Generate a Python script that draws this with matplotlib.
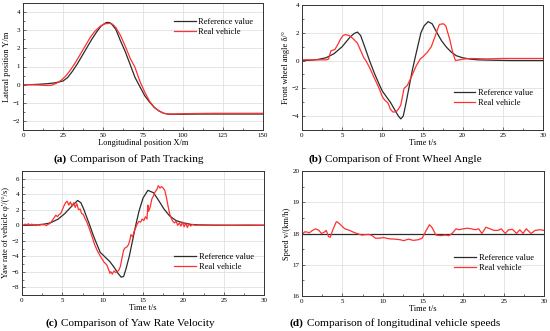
import matplotlib
matplotlib.use("Agg")
import matplotlib.pyplot as plt
from matplotlib.ticker import AutoMinorLocator, MultipleLocator

plt.rcParams['font.family'] = ['Liberation Serif', 'DejaVu Serif']

# (a) path tracking
xa_ref = [0, 5, 10, 15, 20, 25, 28, 31, 34, 37, 40, 43, 46, 49, 52, 53.5, 55, 58, 61, 64, 67, 70,
          73, 76, 79, 82, 85, 88, 91, 95, 100, 110, 120, 130, 140, 150]
ya_ref = [0, 0, 0.02, 0.05, 0.1, 0.2, 0.4, 0.75, 1.15, 1.6, 2.05, 2.5, 2.9, 3.25, 3.42, 3.43, 3.38,
          3.05, 2.4, 1.8, 1.1, 0.4, -0.1, -0.6, -0.95, -1.25, -1.45, -1.58, -1.63, -1.63, -1.63,
          -1.62, -1.62, -1.62, -1.62, -1.62]
xa_real = [0, 5, 10, 15, 18, 21, 24, 27, 30, 33, 36, 39, 42, 45, 48, 51, 54, 56, 58, 61, 64, 67,
           70, 73, 76, 79, 82, 85, 88, 91, 95, 100, 110, 120, 130, 140, 150]
ya_real = [0, 0, -0.02, -0.05, -0.03, 0.08, 0.25, 0.5, 0.85, 1.25, 1.7, 2.15, 2.6, 2.95, 3.2, 3.35,
           3.38, 3.33, 3.15, 2.7, 2.1, 1.45, 0.95, 0.2, -0.4, -0.9, -1.25, -1.45, -1.58, -1.62,
           -1.62, -1.6, -1.59, -1.58, -1.58, -1.58, -1.58]

# (b) front wheel angle
tb_ref = [0, 1, 2, 3, 4, 5, 5.5, 6, 6.5, 6.9, 7.3, 7.8, 8.4, 9.0, 9.6, 10.0, 10.5, 11.0, 11.5, 12.0,
          12.3, 12.6, 12.9, 13.3, 13.7, 14.0, 14.4, 14.8, 15.2, 15.7, 16.2, 16.8, 17.4, 18.0, 18.6,
          19.2, 20, 21, 22, 24, 26, 28, 30]
yb_ref = [0, 0.02, 0.08, 0.2, 0.5, 1.0, 1.35, 1.7, 1.95, 2.05, 1.8, 1.0, 0.0, -0.9, -1.7, -2.2,
          -2.6, -3.0, -3.5, -4.0, -4.2, -4.0, -3.2, -2.0, -0.8, 0.0, 1.0, 2.0, 2.5, 2.8, 2.65, 2.0,
          1.4, 0.95, 0.6, 0.35, 0.2, 0.1, 0.05, 0.02, 0, 0, 0]
tb_real = [0, 1, 2, 3, 3.3, 3.6, 4.1, 4.5, 4.8, 5.1, 5.4, 5.9, 6.4, 6.9, 7.2, 7.7, 8.0, 8.4, 8.8,
           9.2, 9.6, 10.0, 10.3, 10.7, 11.0, 11.3, 11.7, 12.0, 12.3, 12.7, 13.1, 13.6, 14.2, 14.7,
           15.1, 15.6, 16.1, 16.6, 17.1, 17.6, 17.9, 18.4, 18.8, 19.1, 19.6, 20, 21, 23, 25, 30]
yb_real = [0.05, 0.05, 0.05, 0.05, 0.1, 0.7, 0.8, 1.2, 1.55, 1.8, 1.87, 1.8, 1.55, 1.25, 0.85,
           0.2, -0.05, -0.5, -1.0, -1.5, -2.0, -2.6, -2.85, -3.05, -3.5, -3.7, -3.7, -3.5, -3.2,
           -2.0, -1.8, -1.2, -0.4, 0.1, 0.3, 0.6, 1.0, 1.8, 2.6, 2.65, 2.5, 1.5, 0.5, 0.0, 0.05,
           0.1, 0.15, 0.12, 0.15, 0.15]

# (c) yaw rate
tc_ref = [0, 1, 2, 2.5, 3.5, 4.5, 5.3, 6.2, 6.9, 7.3, 7.6, 8.0, 8.4, 8.8, 9.1, 9.7, 10.3, 10.9,
          11.4, 11.9, 12.3, 12.6, 12.9, 13.3, 13.7, 14.1, 14.5, 15.0, 15.6, 16.3, 17.0, 17.6, 18.3,
          19.1, 20, 21, 22, 24, 30]
yc_ref = [0, 0, 0.05, 0.1, 0.3, 0.8, 1.5, 2.5, 3.2, 2.9, 2.2, 1.1, 0, -1.2, -2.0, -3.5, -4.1, -4.7,
          -5.4, -6.2, -6.7, -6.6, -5.6, -4.0, -2.0, 0, 1.8, 3.5, 4.5, 4.2, 3.1, 2.1, 1.2, 0.6, 0.3,
          0.1, 0.05, 0, 0]
tc_real = [0, 0.2, 0.4, 0.6, 0.8, 1.0, 1.2, 1.4, 1.6, 1.8, 2.0, 2.2, 2.4, 2.6, 2.8, 3.0, 3.2, 3.4,
           3.6, 3.8, 4.0, 4.2, 4.4, 4.6, 4.8, 5.0, 5.2, 5.4, 5.6, 5.8, 6.0, 6.2, 6.4, 6.6, 6.8, 7.0,
           7.2, 7.4, 7.6, 7.8, 8.0, 8.3, 8.6, 9.0, 9.3, 9.6, 9.9, 10.2, 10.5, 10.7, 10.9, 11.0,
           11.2, 11.4, 11.6, 11.8, 12.0, 12.2, 12.4, 12.6, 12.8, 13.0, 13.2, 13.4, 13.5, 13.7,
           13.9, 14.1, 14.3, 14.5, 14.7, 14.9, 15.1, 15.3, 15.5, 15.6, 15.7, 15.9, 16.1, 16.3,
           16.5, 16.7, 16.9, 17.1, 17.3, 17.5, 17.7, 17.9, 18.1, 18.3, 18.5, 18.7, 18.9, 19.1,
           19.3, 19.5, 19.7, 19.9, 20.1, 20.3, 20.5, 20.7, 20.9, 21.1, 21.5, 22, 23, 24, 26, 28, 30]
yc_real = [0.1, 0.0, 0.15, 0.05, 0.2, 0.0, 0.15, 0.05, 0.1, -0.05, 0.1, 0.0, 0.15, 0.05, 0.1,
           -0.05, 0.1, 0.2, 0.4, 0.7, 1.0, 1.3, 1.1, 1.4, 1.5, 2.0, 2.5, 2.9, 3.1, 2.6, 3.0, 2.5,
           2.9, 2.3, 2.8, 2.0, 2.1, 1.5, 1.4, 0.9, 0.5, -0.3, -1.2, -2.5, -3.2, -3.8, -4.3, -4.8,
           -5.1, -5.6, -6.2, -6.0, -6.3, -5.9, -6.1, -6.0, -5.8, -5.3, -4.2, -3.2, -2.9, -2.8,
           -2.5, -1.8, -1.2, -1.5, -0.8, -0.3, 0.2, 0.5, 0.4, 0.8, 0.6, 1.1, 0.8, 2.6, 1.8, 2.4,
           3.4, 3.8, 4.3, 4.6, 5.1, 4.8, 5.0, 4.8, 4.5, 3.6, 2.5, 1.5, 0.9, 0.5, 0.3, 0.5, 0.0,
           0.3, -0.1, 0.4, -0.2, 0.3, -0.3, 0.2, -0.1, 0.1, 0.0, 0.05, 0, 0.02, 0, 0.02, 0]

# (d) longitudinal speed
td_ref = [0, 30]
yd_ref = [18, 18]
td_real = [0, 0.3, 0.6, 0.9, 1.3, 1.7, 2.1, 2.4, 2.8, 3.0, 3.3, 3.5, 3.8, 4.2, 4.3, 4.7, 5.3, 5.9,
           6.3, 6.8, 7.4, 8.2, 8.6, 9.1, 9.6, 10.1, 10.8, 11.5, 12.2, 12.6, 13.2, 13.8, 14.4, 14.9,
           15.4, 15.8, 16.1, 16.6, 17.2, 17.8, 18.2, 18.6, 19.1, 19.5, 20, 20.5, 21, 21.5, 21.9,
           22.3, 22.8, 23.3, 23.8, 24.3, 24.7, 25.2, 25.6, 26.1, 26.6, 27.0, 27.4, 27.8, 28.4,
           28.9, 29.5, 30]
yd_real = [17.95, 18.05, 18.05, 18.02, 18.1, 18.15, 18.1, 18.0, 18.05, 18.1, 17.9, 17.88, 18.1,
           18.35, 18.38, 18.3, 18.15, 18.1, 18.05, 18.0, 17.95, 17.97, 17.95, 17.85, 17.85, 17.87,
           17.83, 17.82, 17.8, 17.77, 17.82, 17.78, 17.8, 17.85, 18.1, 18.28, 18.2, 17.95, 17.93,
           17.95, 17.93, 18.0, 18.15, 18.12, 18.15, 18.17, 18.15, 18.12, 18.15, 18.0, 18.2, 18.15,
           18.1, 18.1, 18.15, 18.0, 18.12, 18.13, 18.0, 18.12, 18.0, 18.15, 18.0, 18.1, 18.12, 18.1]

W, H = 550, 331
fig = plt.figure(figsize=(W / 100, H / 100), dpi=100)


def make_ax(l, r, t, b):
    return fig.add_axes([l / W, 1 - b / H, (r - l) / W, (b - t) / H])


def style(ax, xlim, ylim, xstep, ystep, xlabel, ylabel, leg_xy):
    ax.set_xlim(*xlim)
    ax.set_ylim(*ylim)
    ax.xaxis.set_major_locator(MultipleLocator(xstep))
    ax.yaxis.set_major_locator(MultipleLocator(ystep))
    ax.xaxis.set_minor_locator(AutoMinorLocator(2))
    ax.yaxis.set_minor_locator(AutoMinorLocator(2))
    ax.tick_params(which='both', direction='in', labelsize=5, color='#333333', pad=2)
    ax.tick_params(which='major', length=2.5, width=0.5)
    ax.tick_params(which='minor', length=1.5, width=0.5)
    ax.grid(True, color='#e0e0e0', linewidth=0.6)
    ax.set_axisbelow(True)
    for s in ax.spines.values():
        s.set_color('#333333')
        s.set_linewidth(0.7)
    ax.set_xlabel(xlabel, fontsize=6, labelpad=1)
    ax.set_ylabel(ylabel, fontsize=6, labelpad=1)
    ax.legend(loc='upper left', bbox_to_anchor=leg_xy, frameon=False, fontsize=6,
              handlelength=2.6, handletextpad=0.3, borderpad=0, borderaxespad=0,
              labelspacing=0.25)


black = '#2b2b2b'
red = '#ff3030'
lw = 0.9

ax = make_ax(23, 263, 3, 130)
ax.plot(xa_ref, ya_ref, color=black, lw=lw, label='Reference value')
ax.plot(xa_real, ya_real, color=red, lw=lw, label='Real vehicle')
style(ax, (0, 150), (-2.5, 4.5), 25, 1, 'Longitudinal position X/m', 'Lateral position Y/m',
      (0.63, 0.88))

ax = make_ax(302, 543, 5, 130)
ax.plot(tb_ref, yb_ref, color=black, lw=lw, label='Reference value')
ax.plot(tb_real, yb_real, color=red, lw=lw, label='Real vehicle')
style(ax, (0, 30), (-5, 4), 5, 2, 'Time t/s', 'Front wheel angle δ/°', (0.63, 0.33))

ax = make_ax(22, 264, 171, 295)
ax.plot(tc_ref, yc_ref, color=black, lw=lw, label='Reference value')
ax.plot(tc_real, yc_real, color=red, lw=lw, label='Real vehicle')
style(ax, (0, 30), (-9, 7), 5, 2, 'Time t/s', "Yaw rate of vehicle φ'/(°/s)", (0.63, 0.34))

ax = make_ax(302, 544, 171, 296)
ax.plot(td_ref, yd_ref, color=black, lw=lw, label='Reference value')
ax.plot(td_real, yd_real, color=red, lw=lw, label='Real vehicle')
style(ax, (0, 30), (16, 20), 5, 1, 'Time t/s', 'Speed v/(km/h)', (0.63, 0.34))

captions = [((54, 159), '(a)', ' Comparison of Path Tracking'),
            ((308, 159), '(b)', ' Comparison of Front Wheel Angle'),
            ((45, 323), '(c)', ' Comparison of Yaw Rate Velocity'),
            ((290, 323), '(d)', ' Comparison of longitudinal vehicle speeds')]
for (px, py), tag, rest in captions:
    t1 = fig.text(px / W, 1 - py / H, tag, fontsize=8.1, weight='bold', va='center', ha='left')
    fig.texts.append(matplotlib.text.Annotation(rest, xy=(1, 0.5), xycoords=t1, va='center',
                                                ha='left', fontsize=8.1))
    fig.texts[-1].set_figure(fig)

fig.savefig('out.png', dpi=100)
